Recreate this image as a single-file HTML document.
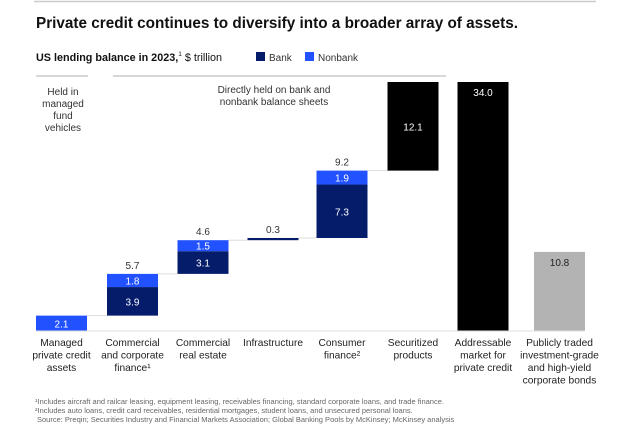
<!DOCTYPE html>
<html><head><meta charset="utf-8"><style>
body{margin:0;background:#fff;font-family:"Liberation Sans",sans-serif;}
svg text{font-family:"Liberation Sans",sans-serif;}
</style></head><body>
<svg width="624" height="432" viewBox="0 0 624 432">
<line x1="34" y1="1.5" x2="596" y2="1.5" stroke="#ccc" stroke-width="1.5"/>
<text x="36" y="28" font-size="15.3" font-weight="bold" fill="#111">Private credit continues to diversify into a broader array of assets.</text>
<text x="36" y="61" font-size="10.8" fill="#111"><tspan font-weight="bold">US lending balance in 2023,</tspan><tspan font-size="6.5" dy="-5">1</tspan><tspan dy="5"> $ trillion</tspan></text>
<rect x="256" y="52" width="9" height="9" fill="#051c6b"/>
<text x="269" y="61" font-size="10" fill="#333">Bank</text>
<rect x="305" y="52" width="9" height="9" fill="#2251ff"/>
<text x="318" y="61" font-size="10" fill="#333">Nonbank</text>
<line x1="36" y1="76" x2="88" y2="76" stroke="#ccc" stroke-width="1.5"/>
<line x1="113" y1="76" x2="446" y2="76" stroke="#ccc" stroke-width="1.5"/>
<text font-size="10" fill="#333" text-anchor="middle"><tspan x="63" y="95">Held in</tspan><tspan x="63" y="107">managed</tspan><tspan x="63" y="119">fund</tspan><tspan x="63" y="131">vehicles</tspan></text>
<text font-size="10" fill="#333" text-anchor="middle"><tspan x="274" y="93">Directly held on bank and</tspan><tspan x="274" y="105">nonbank balance sheets</tspan></text>
<g id="bars"></g>
<line x1="36" y1="331" x2="585" y2="331" stroke="#ddd" stroke-width="1"/>
<text font-size="7.5" fill="#666"><tspan x="35" y="404">¹Includes aircraft and railcar leasing, equipment leasing, receivables financing, standard corporate loans, and trade finance.</tspan><tspan x="35" y="413">²Includes auto loans, credit card receivables, residential mortgages, student loans, and unsecured personal loans.</tspan><tspan x="37" y="422">Source: Preqin; Securities Industry and Financial Markets Association; Global Banking Pools by McKinsey; McKinsey analysis</tspan></text>
</svg>
<script>
const categories=["Managed private credit assets","Commercial and corporate finance","Commercial real estate","Infrastructure","Consumer finance","Securitized products","Addressable market for private credit","Publicly traded investment-grade and high-yield corporate bonds"];
const bankValues=[0,3.9,3.1,0.3,7.3,0,0,0];
const nonbankValues=[2.1,1.8,1.5,0,1.9,0,0,0];
const otherValues=[0,0,0,0,0,12.1,34.0,10.8];
const totalLabels=["","5.7","4.6","0.3","9.2","","",""];
const barKinds=["waterfall","waterfall","waterfall","waterfall","waterfall","waterfall","total","standalone"];
const axisLabels=[["Managed","private credit","assets"],["Commercial","and corporate","finance¹"],["Commercial","real estate"],["Infrastructure"],["Consumer","finance²"],["Securitized","products"],["Addressable","market for","private credit"],["Publicly traded","investment-grade","and high-yield","corporate bonds"]];
const NS="http://www.w3.org/2000/svg";
const g=document.getElementById('bars');
const base=331, yMax=34.0, topY=82;
function y(v){return base-(v/yMax)*(base-topY);}
const xCenters=[61.5,132.5,203,273,342,413,483,559.5];
function x(i){return xCenters[i];}
const bw=51;
function mk(tag,a){const e=document.createElementNS(NS,tag);for(const k in a)e.setAttribute(k,a[k]);g.appendChild(e);return e;}
function txt(tx,ty,s,fill,name,size){const t=mk('text',{x:tx,y:ty,'text-anchor':'middle','font-size':size||10,fill:fill});t.textContent=s;

return t;}
let cum=0;
categories.forEach((c,i)=>{
 const cx=x(i), x0=cx-bw/2;
 let start=barKinds[i]==="waterfall"?cum:0;
 if(barKinds[i]==="waterfall"&&i>0){const l=mk('line',{x1:x(i-1)+bw/2,x2:x0,y1:y(cum),y2:y(cum),stroke:'#ddd','stroke-width':1});
 
 }
 let s=start;
 const segs=[[bankValues[i],'#051c6b','bank'],[nonbankValues[i],'#2251ff','nonbank'],[otherValues[i],i===7?'#b3b3b3':'#000','total']];
 segs.forEach(([v,col,kind])=>{
  if(!v)return;
  const r=mk('rect',{x:x0,y:y(s+v),width:bw,height:Math.max(y(s)-y(s+v),2),fill:col});
  
  
  if(v>=1){
   const ty=(kind==='total')?(i===5?(y(s)+y(s+v))/2+4:y(s+v)+14):(y(s)+y(s+v))/2+4;
   txt(cx,ty,v.toFixed(1),i===7?'#222':'#fff','value-label',10);
  }
  s+=v;
 });
 if(totalLabels[i]) txt(cx,y(s)-5,totalLabels[i],'#333','total-label',10);
 if(barKinds[i]==="waterfall")cum=s;
 axisLabels[i].forEach((ln,k)=>txt(cx,346+k*12.5,ln,'#222','category-label',10.2));
});
</script>
</body></html>
